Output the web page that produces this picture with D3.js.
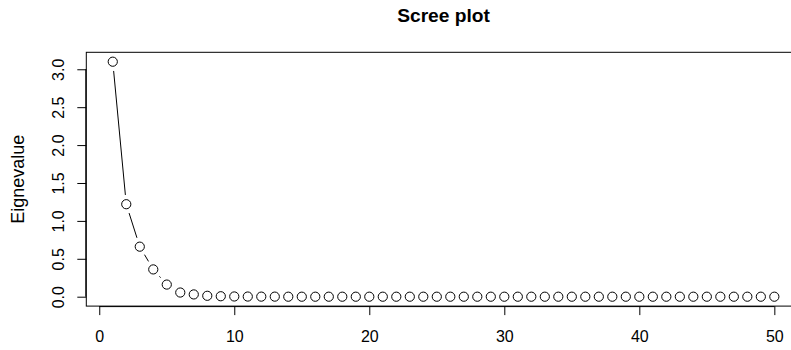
<!DOCTYPE html>
<html>
<head>
<meta charset="utf-8">
<script src="https://cdn.jsdelivr.net/npm/d3@7"></script>
<style>
  html, body { margin: 0; padding: 0; background: #fff; }
  svg { display: block; font-family: "Liberation Sans", Arial, Helvetica, sans-serif; }
</style>
</head>
<body>
<svg id="chart" width="791" height="350"></svg>
<script>
// Component numbers and their eigenvalues
const components = d3.range(1, 51);
const eigenvalues = [
  3.10, 1.22, 0.66, 0.36, 0.16, 0.055, 0.03, 0.012, 0.006, 0.003,
  0.002, 0.001, 0.001, 0, 0, 0, 0, 0, 0, 0,
  0, 0, 0, 0, 0, 0, 0, 0, 0, 0,
  0, 0, 0, 0, 0, 0, 0, 0, 0, 0,
  0, 0, 0, 0, 0, 0, 0, 0, 0, 0
];
const xTicks = [0, 10, 20, 30, 40, 50];
const yTicks = [0, 0.5, 1, 1.5, 2, 2.5, 3];
const chartTitle = "Scree plot";
const yTitle = "Eignevalue";

const data = components.map((c, i) => ({ x: c, y: eigenvalues[i] }));

const svg = d3.select("#chart");
const plotLeft = 86.3, plotRight = 800.8, plotTop = 52.3, plotBottom = 306.1;

// Axis ranges padded by 4% on each side
const xMin = d3.min(components), xMax = d3.max(components);
const xPad = (xMax - xMin) * 0.04;
const yMin = d3.min(eigenvalues), yMax = d3.max(eigenvalues);
const yPad = (yMax - yMin) * 0.04;

const x = d3.scaleLinear().domain([xMin - xPad, xMax + xPad]).range([plotLeft, plotRight]);
const y = d3.scaleLinear().domain([yMin - yPad, yMax + yPad]).range([plotBottom, plotTop]);

// Plot frame
svg.append("rect")
  .attr("x", plotLeft).attr("y", plotTop)
  .attr("width", plotRight - plotLeft).attr("height", plotBottom - plotTop)
  .attr("fill", "none").attr("stroke", "#000").attr("stroke-width", 1);

// X axis
const gx = svg.append("g")
  .attr("transform", `translate(0,${plotBottom})`)
  .call(d3.axisBottom(x).tickValues(xTicks).tickFormat(d3.format("d")).tickSize(9).tickPadding(0).tickSizeOuter(0));
gx.select(".domain").attr("d", `M${x(xTicks[0])},0.5H${x(xTicks[xTicks.length - 1])}`);
gx.selectAll("text")
  .attr("y", 36.3).attr("dy", null)
  .attr("font-size", 16).attr("fill", "#000")
  .attr("font-family", "Liberation Sans, Arial, sans-serif");

// Y axis
const gy = svg.append("g")
  .attr("transform", `translate(${plotLeft},0)`)
  .call(d3.axisLeft(y).tickValues(yTicks).tickFormat(d3.format(".1f")).tickSize(9).tickPadding(0).tickSizeOuter(0));
gy.select(".domain").attr("d", `M-0.5,${y(yTicks[0])}V${y(yTicks[yTicks.length - 1])}`);
gy.selectAll(".tick text")
  .attr("x", null).attr("dy", null)
  .attr("text-anchor", "middle")
  .attr("transform", "translate(-22.8,0) rotate(-90)")
  .attr("font-size", 16).attr("fill", "#000")
  .attr("font-family", "Liberation Sans, Arial, sans-serif");
svg.selectAll(".tick line").attr("stroke", "#000");
svg.selectAll(".domain").attr("stroke", "#000");

// Connecting segments, shortened so they stop short of each marker
const gap = 9.3;
const segs = [];
for (let i = 0; i < data.length - 1; i++) {
  const x0 = x(data[i].x), y0 = y(data[i].y);
  const x1 = x(data[i + 1].x), y1 = y(data[i + 1].y);
  const len = Math.hypot(x1 - x0, y1 - y0);
  if (len > 2 * gap) {
    const ux = (x1 - x0) / len, uy = (y1 - y0) / len;
    segs.push([x0 + ux * gap, y0 + uy * gap, x1 - ux * gap, y1 - uy * gap]);
  }
}
svg.append("g").selectAll("line").data(segs).join("line")
  .attr("x1", d => d[0]).attr("y1", d => d[1])
  .attr("x2", d => d[2]).attr("y2", d => d[3])
  .attr("stroke", "#000").attr("stroke-width", 1);

// Open circle markers
svg.append("g").selectAll("circle").data(data).join("circle")
  .attr("cx", d => x(d.x)).attr("cy", d => y(d.y))
  .attr("r", 4.6)
  .attr("fill", "none").attr("stroke", "#000").attr("stroke-width", 1);

// Titles
svg.append("text")
  .attr("x", (plotLeft + plotRight) / 2).attr("y", 21.5)
  .attr("text-anchor", "middle")
  .attr("font-size", 19.2).attr("font-weight", "bold")
  .text(chartTitle);

svg.append("text")
  .attr("transform", `translate(24,${(plotTop + plotBottom) / 2}) rotate(-90)`)
  .attr("text-anchor", "middle")
  .attr("font-size", 18)
  .text(yTitle);
</script>
</body>
</html>
